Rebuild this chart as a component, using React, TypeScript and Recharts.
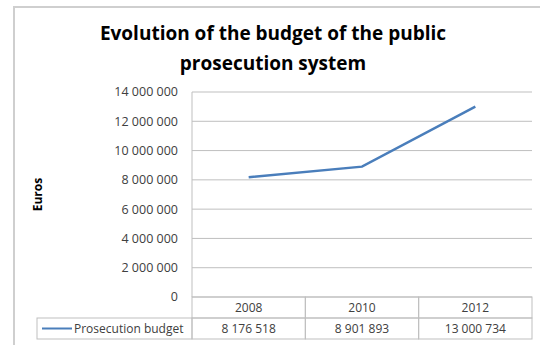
import React from 'react';
import { LineChart, Line, XAxis, YAxis, CartesianGrid } from 'recharts';

const years = ['2008', '2010', '2012'];
const budget = [8176518, 8901893, 13000734];
const yTicks = [0, 2000000, 4000000, 6000000, 8000000, 10000000, 12000000, 14000000];
const seriesName = 'Prosecution budget';

const data = years.map((year, i) => ({ year, budget: budget[i] }));

const W = 540;
const H = 345;
const LEFT = 192;
const RIGHT = 8;
const BAND = (W - LEFT - RIGHT) / years.length;
const ROW = 21;
const GRID = '#bfbfbf';
const TEXT = '#404040';
const BLUE = '#4a7ebb';
const FONT = '"Open Sans", sans-serif';

const fmt = (n: number) => String(n).replace(/\B(?=(\d{3})+(?!\d))/g, ' ');

// x axis ticks draw the data table below the plot
const TableTick = (props: any) => {
  const { x, y, payload, index } = props;
  const left = x - BAND / 2;
  return (
    <g>
      <rect x={left} y={y} width={BAND} height={ROW} fill="none" stroke={GRID} />
      <rect x={left} y={y + ROW} width={BAND} height={ROW} fill="none" stroke={GRID} />
      <text x={x} y={y + ROW / 2 + 4} textAnchor="middle" fontSize={12} fill={TEXT} fontFamily={FONT}>
        {payload.value}
      </text>
      <text x={x} y={y + ROW * 1.5 + 4} textAnchor="middle" fontSize={12} fill={TEXT} fontFamily={FONT}>
        {fmt(budget[index])}
      </text>
      {index === 0 && (
        <g>
          <rect x={37} y={y + ROW} width={left - 37} height={ROW} fill="none" stroke={GRID} />
          <line x1={42} x2={72} y1={y + ROW * 1.5} y2={y + ROW * 1.5} stroke={BLUE} strokeWidth={2} />
          <text x={74} y={y + ROW * 1.5 + 4} fontSize={12} fill={TEXT} fontFamily={FONT}>
            {seriesName}
          </text>
        </g>
      )}
    </g>
  );
};

const EurosLabel = (props: any) => {
  const { viewBox } = props;
  const cx = viewBox.x + 42;
  const cy = viewBox.y + viewBox.height / 2;
  return (
    <text x={cx} y={cy} transform={`rotate(-90 ${cx} ${cy})`} textAnchor="middle"
      fontSize={12} fontWeight="bold" fill="#000" fontFamily={FONT}>
      Euros
    </text>
  );
};

export default function App() {
  return (
    <div style={{ position: 'absolute', left: 0, top: 0, width: W, height: H, background: '#fff', overflow: 'hidden' }}>
      <div style={{ position: 'absolute', left: 13, top: 6, width: W, height: H, borderLeft: '2px solid #cfcfcf', borderTop: '2px solid #cfcfcf' }} />
      <div style={{ position: 'absolute', left: 8, top: 18, width: 530, textAlign: 'center', fontFamily: FONT, fontWeight: 'bold', fontSize: 19, lineHeight: '30px', color: '#000' }}>
        Evolution of the budget of the public<br />prosecution system
      </div>
      <LineChart width={W} height={H} data={data} margin={{ top: 92, right: RIGHT, bottom: 0, left: 0 }} style={{ position: 'absolute', left: 0, top: 0 }}>
        <CartesianGrid vertical={false} stroke={GRID} />
        <XAxis dataKey="year" height={48} padding={{ left: BAND / 2, right: BAND / 2 }}
          axisLine={false} tickLine={false} tickSize={0} tickMargin={0} tick={<TableTick />} interval={0} />
        <YAxis width={LEFT} domain={[0, 14000000]} ticks={yTicks} tickFormatter={fmt}
          axisLine={{ stroke: GRID }} tickLine={false} tickSize={0} tickMargin={14}
          tick={{ fontSize: 12.5, fill: TEXT, fontFamily: FONT }} label={<EurosLabel />} />
        <Line dataKey="budget" stroke={BLUE} strokeWidth={2.5} dot={false} isAnimationActive={false} />
      </LineChart>
    </div>
  );
}
